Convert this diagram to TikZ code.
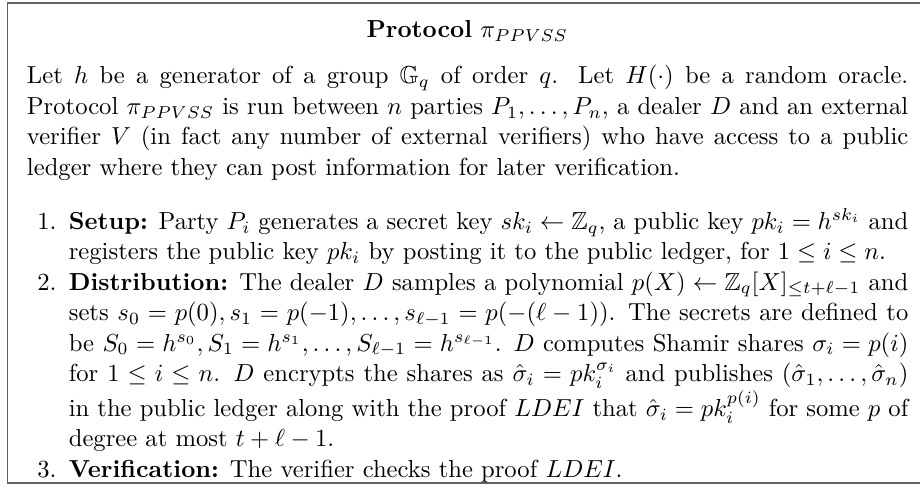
\documentclass[tikz,border=0pt]{standalone}
\usepackage{amssymb}
\tikzset{
  frameline/.style={draw=black!62, line width=0.8pt},
  prosetext/.style={anchor=base west, inner sep=0pt, text width=358pt, align=justify,
    font=\fontsize{10}{12.35}\selectfont},
}
\newenvironment{protosteps}{%
  \begin{list}{\arabic{enumi}.}{\usecounter{enumi}%
    \setlength\leftmargin{17pt}\setlength\labelsep{5pt}\setlength\labelwidth{12pt}%
    \setlength\itemsep{0pt}\setlength\parsep{0pt}\setlength\topsep{0pt}\setlength\partopsep{0pt}}}%
  {\end{list}}
\begin{document}
\begin{tikzpicture}[x=1pt,y=1pt]
  \useasboundingbox (0,0) rectangle (373.7,-197.8);
  % open frame (its right side lies past the page edge)
  \draw[frameline] (373.7,-1.2) -- (3.05,-1.2) -- (3.05,-196.2) -- (373.7,-196.2);

  \node[anchor=base, inner sep=0pt] (title) at (189.8,-15.4) {\textbf{Protocol} $\pi_{PPVSS}$};

  \node[prosetext] (body) at (10.76,-34.1) {%
    Let $h$ be a generator of a group $\mathbb{G}_q$ of order $q$. Let $H(\cdot)$ be a random oracle.
    Protocol $\pi_{PPVSS}$ is run between $n$ parties $P_1,\ldots,P_n$, a dealer $D$ and an external
    verifier $V$ (in fact any number of external verifiers) who have access to a public
    ledger where they can post information for later verification.\par
    \vspace{9.7pt}%
    \begin{protosteps}
    \item \textbf{Setup:} Party $P_i$ generates a secret key $sk_i \leftarrow \mathbb{Z}_q$, a public key $pk_i = h^{sk_i}$ and
      registers the public key $pk_i$ by posting it to the public ledger, for $1 \leq i \leq n$.
    \item \textbf{Distribution:} The dealer $D$ samples a polynomial $p(X) \leftarrow \mathbb{Z}_q[X]_{\leq t+\ell-1}$ and
      sets $s_0 = p(0), s_1 = p(-1), \ldots, s_{\ell-1} = p(-(\ell-1))$. The secrets are defined to
      be $S_0 = h^{s_0}, S_1 = h^{s_1}, \ldots, S_{\ell-1} = h^{s_{\ell-1}}$. $D$ computes Shamir shares $\sigma_i = p(i)$
      for $1 \leq i \leq n$. $D$ encrypts the shares as $\hat{\sigma}_i = pk_i^{\sigma_i}$ and publishes $(\hat{\sigma}_1,\ldots,\hat{\sigma}_n)$
      in the public ledger along with the proof $LDEI$ that $\hat{\sigma}_i = pk_i^{p(i)}$ for some $p$ of
      degree at most $t+\ell-1$.
    \item \textbf{Verification:} The verifier checks the proof $LDEI$.
    \end{protosteps}};
\end{tikzpicture}
\end{document}
